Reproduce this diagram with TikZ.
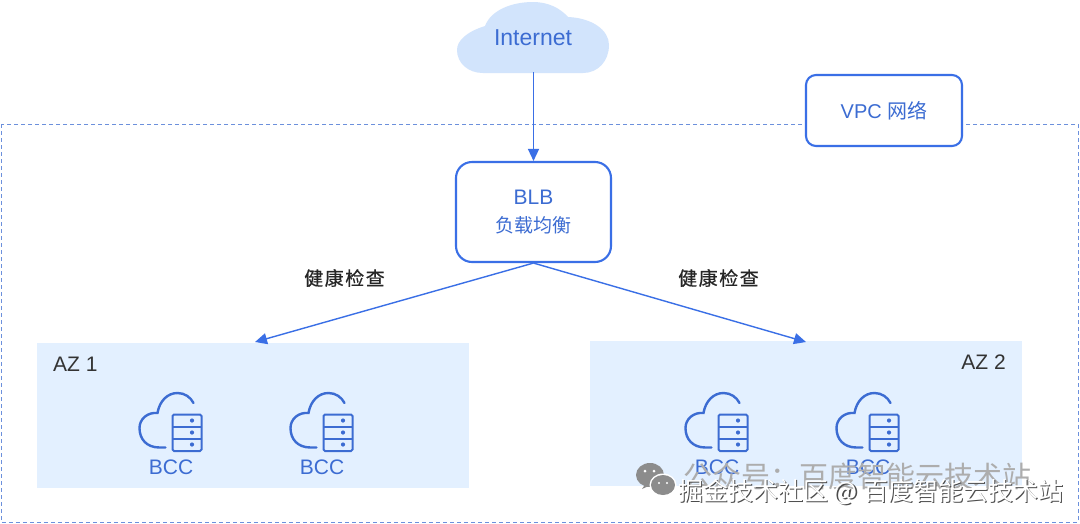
\documentclass[tikz,border=0pt]{standalone}
\usepackage{fontspec}
\setmainfont{Liberation Sans}
\newfontfamily\cjk{Noto Sans CJK SC}
\newfontfamily\cjkcheck[FakeBold=0.5,LetterSpace=8]{Noto Sans CJK SC}
\usetikzlibrary{arrows.meta}
\definecolor{lineblue}{HTML}{3A6FE6}
\definecolor{textblue}{HTML}{3C6CD2}
\definecolor{azfill}{HTML}{E3F0FF}
\definecolor{cloudfill}{HTML}{D2E4FC}
\definecolor{dashblue}{HTML}{6C90DC}
\definecolor{wechat}{HTML}{8C8C8C}
\tikzset{
  x=1pt,y=-1pt,
  conn/.style={draw=lineblue,line width=1.4pt,-{Triangle[length=12pt,width=11pt]}},
  bluebox/.style={draw=lineblue,line width=2.1pt,fill=white,inner sep=0pt,align=center,text=textblue},
  azbox/.style={fill=azfill,draw=none,inner sep=0pt,anchor=north west},
  lab/.style={inner sep=0pt,font=\fontsize{23}{26}\selectfont,text=textblue},
  azlab/.style={inner sep=0pt,font=\fontsize{21}{24}\selectfont,text=black!80},
  checklab/.style={inner sep=0pt,font=\cjkcheck\fontsize{19}{24}\selectfont,text=black!85},
  iconline/.style={draw=textblue,line width=2.4pt,line cap=round},
  iconthin/.style={draw=textblue,line width=2pt},
  bcclab/.style={inner sep=0pt,font=\fontsize{21}{24}\selectfont,text=textblue},
  mark1/.style={inner sep=0pt,text=black!32,font=\cjk\fontsize{29}{32}\selectfont},
  mark2/.style={inner sep=0pt,text=white,font=\cjk\fontsize{25}{28}\selectfont},
  pics/bccicon/.style={code={
    \draw[iconline] (26,54.5) -- (20,54.5) .. controls (7,54.5) and (0,46) .. (0,35)
       .. controls (0,26) and (8,19) .. (18,20)
       .. controls (20,8) and (28,0) .. (38,0)
       .. controls (45,0) and (51,4) .. (54,10);
    \draw[iconthin,rounded corners=1.5pt] (33,21.5) rectangle (62,58);
    \draw[iconthin] (33,33.5) -- (62,33.5) (33,45.5) -- (62,45.5);
    \fill[textblue] (52.5,27.5) circle (2.1) (52.5,39.5) circle (2.1) (52.5,51.5) circle (2.1);
  }}
}
\begin{document}
\begin{tikzpicture}
\useasboundingbox (0,0) rectangle (1080,523);
\fill[white] (0,0) rectangle (1080,523);
% VPC dashed area
\draw[dashblue,line width=1pt,dash pattern=on 4pt off 3pt] (1,124) rectangle (1078,522);
\node[bluebox,minimum width=156pt,minimum height=71pt,rounded corners=10pt,font=\fontsize{20}{24}\selectfont] (vpc) at (884,110.5) {VPC \cjk 网络};
% cloud
\fill[cloudfill] (483,73) .. controls (468,73) and (457,63) .. (457,50)
  .. controls (457,41) and (466,32) .. (485,26)
  .. controls (491,10) and (512,2) .. (533,2)
  .. controls (548,2) and (560,8) .. (568,17)
  .. controls (592,18) and (609,30) .. (609,45)
  .. controls (609,61) and (598,73) .. (583,73) -- cycle;
\node[lab] (internet) at (533,37.5) {Internet};
\coordinate (cloudbottom) at (533.5,72);
% BLB
\node[bluebox,minimum width=155pt,minimum height=100pt,rounded corners=16pt,font=\fontsize{21}{27}\selectfont] (blb) at (533.5,212) {BLB\\[1pt]{\cjk\fontsize{19}{27}\selectfont 负载均衡}};
% AZ
\node[azbox,minimum width=432pt,minimum height=145pt] (az1) at (37,343) {};
\node[azbox,minimum width=432pt,minimum height=145pt] (az2) at (590,341) {};
\node[azlab,anchor=west] (az1t) at (53,364) {AZ 1};
\node[azlab,anchor=east] (az2t) at (1006,362) {AZ 2};
% connectors
\coordinate (a1) at (255,342);
\coordinate (a2) at (806,342);
\draw[conn] (cloudbottom) -- (blb.north);
\draw[conn] (blb.south) -- (a1);
\draw[conn] (blb.south) -- (a2);
\node[checklab] (h1) at (344.5,278) {健康检查};
\node[checklab] (h2) at (718.5,278) {健康检查};
% icons
\pic at (139.5,393) {bccicon};
\pic at (290.5,393) {bccicon};
\pic at (685.5,393) {bccicon};
\pic at (836.5,393) {bccicon};
\node[bcclab] (b1) at (171,467) {BCC};
\node[bcclab] (b2) at (322,467) {BCC};
\node[bcclab] (b3) at (717,467) {BCC};
\node[bcclab] (b4) at (868,467) {BCC};
% watermark
\fill[wechat] (650,475) ellipse (14 and 12);
\fill[wechat] (646,483) -- (642,489) -- (651,485) -- cycle;
\fill[white] (663,485) ellipse (13.5 and 11.5);
\fill[wechat] (663,485) ellipse (12 and 10);
\fill[white] (645,471) circle (1.5) (654,471) circle (1.5) (659,483) circle (1.2) (667,483) circle (1.2);
\node[mark1,anchor=west] (wm1) at (683,476) {公众号：百度智能云技术站};
\node[mark2,anchor=west,draw=none] (wm2shadow) at (679.5,493.5) {\textcolor{black!70}{掘金技术社区 @ 百度智能云技术站}};
\node[mark2,anchor=west] (wm2) at (678,492) {掘金技术社区 @ 百度智能云技术站};
\end{tikzpicture}
\end{document}
